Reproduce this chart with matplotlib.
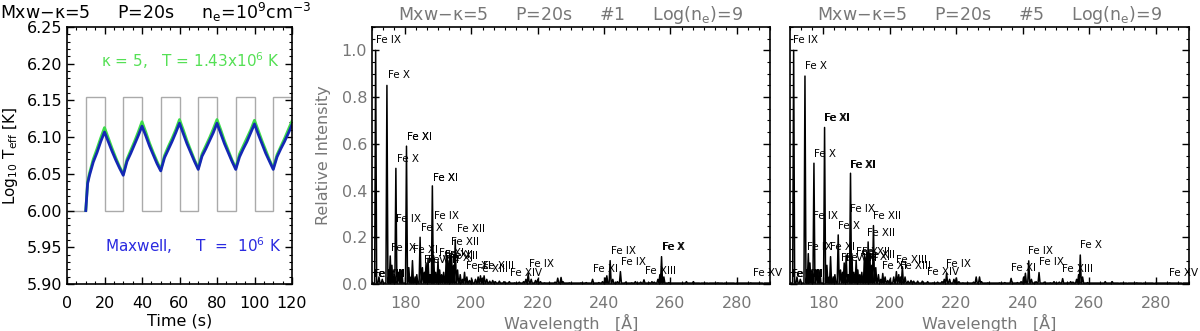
import matplotlib
matplotlib.use("Agg")
import matplotlib.pyplot as plt
from matplotlib.ticker import MultipleLocator, FormatStrFormatter

plt.rcParams['font.family'] = ['DejaVu Sans']
plt.rcParams['mathtext.default'] = 'regular'

# ---- left panel: effective temperature vs time ----
# heating pulse (gray square wave), edges in s and level per interval
pulse_edges = [0, 10, 20, 30, 40, 50, 60, 70, 80, 90, 100, 110, 120]
pulse_level = [6.0, 6.155, 6.0, 6.155, 6.0, 6.155, 6.0, 6.155, 6.0, 6.155, 6.0, 6.155]

time_s = [10, 11, 12, 14, 16, 18, 20, 22, 24, 26, 28, 30, 32, 34, 36, 38, 40,
          42, 44, 46, 48, 50, 52, 54, 56, 58, 60, 62, 64, 66, 68, 70, 72, 74, 76, 78, 80,
          82, 84, 86, 88, 90, 92, 94, 96, 98, 100, 102, 104, 106, 108, 110,
          112, 114, 116, 118, 120]
teff_maxwell = [6.000, 6.037, 6.048, 6.066, 6.079, 6.094, 6.107,
                6.094, 6.081, 6.069, 6.058, 6.048,
                6.067, 6.078, 6.090, 6.102, 6.115,
                6.102, 6.088, 6.076, 6.064, 6.054,
                6.072, 6.083, 6.094, 6.106, 6.119,
                6.105, 6.091, 6.079, 6.067, 6.056,
                6.074, 6.084, 6.095, 6.106, 6.119,
                6.105, 6.091, 6.079, 6.067, 6.056,
                6.073, 6.084, 6.094, 6.106, 6.118,
                6.104, 6.091, 6.078, 6.067, 6.056,
                6.073, 6.084, 6.094, 6.105, 6.117]
teff_kappa = [6.000, 6.039, 6.051, 6.070, 6.084, 6.099, 6.113,
              6.099, 6.085, 6.072, 6.060, 6.050,
              6.070, 6.082, 6.094, 6.107, 6.121,
              6.107, 6.092, 6.079, 6.067, 6.056,
              6.075, 6.087, 6.098, 6.110, 6.124,
              6.110, 6.095, 6.082, 6.069, 6.058,
              6.077, 6.088, 6.099, 6.111, 6.124,
              6.110, 6.095, 6.082, 6.069, 6.058,
              6.077, 6.088, 6.099, 6.110, 6.123,
              6.109, 6.095, 6.082, 6.069, 6.058,
              6.076, 6.087, 6.098, 6.110, 6.122]

# ---- spectra: line list (Angstrom) and peak intensities for snapshot #1 and #5 ----
line_wl = [171.1, 172.1, 173.1, 174.5, 175.2, 175.5, 176.0, 176.7, 177.2, 178.0, 178.6, 179.0,
           180.4, 181.1, 181.8, 182.2, 183.0, 183.5, 184.5, 185.2, 185.8, 186.3, 186.9, 187.5,
           188.2, 188.6, 189.2, 189.9, 190.4, 191.0, 191.6, 192.4, 192.9, 193.5, 194.0, 194.6,
           195.1, 195.8, 196.6, 197.3, 197.9, 198.6, 199.4, 200.1, 201.2, 202.0, 202.7, 203.3,
           203.8, 204.6, 205.5, 206.4, 207.2, 208.4, 209.8, 211.4, 213.0, 214.4, 215.7, 216.4,
           217.1, 218.0, 219.3, 220.0, 220.8, 222.0, 223.5, 225.2, 226.0, 227.0, 227.6, 229.5,
           231.0, 233.0, 234.6, 236.5, 238.4, 239.5, 240.3, 240.8, 241.8, 242.6, 244.0, 244.9,
           246.5, 248.3, 249.4, 251.0, 252.0, 253.5, 254.4, 255.1, 256.2, 256.8, 257.3, 258.0,
           259.5, 261.0, 262.8, 264.8, 266.9, 269.0, 271.5, 274.3, 276.0, 279.5, 284.2, 288.0]
inten_1 = [1.00, 0.03, 0.02, 0.85, 0.06, 0.12, 0.08, 0.04, 0.495, 0.05, 0.03, 0.06,
           0.59, 0.07, 0.03, 0.10, 0.03, 0.04, 0.20, 0.07, 0.05, 0.09, 0.11, 0.04,
           0.42, 0.12, 0.05, 0.10, 0.06, 0.04, 0.05, 0.12, 0.10, 0.13, 0.12, 0.08,
           0.19, 0.06, 0.04, 0.02, 0.05, 0.03, 0.015, 0.02, 0.02, 0.03, 0.035, 0.025,
           0.035, 0.02, 0.012, 0.015, 0.01, 0.012, 0.01, 0.01, 0.005, 0.008, 0.01, 0.02,
           0.045, 0.02, 0.015, 0.02, 0.01, 0.005, 0.005, 0.008, 0.025, 0.028, 0.01, 0.005,
           0.004, 0.005, 0.006, 0.02, 0.006, 0.01, 0.025, 0.035, 0.10, 0.02, 0.01, 0.053,
           0.008, 0.005, 0.01, 0.008, 0.018, 0.006, 0.01, 0.008, 0.02, 0.04, 0.117, 0.03,
           0.006, 0.004, 0.004, 0.01, 0.01, 0.003, 0.003, 0.005, 0.003, 0.002, 0.005, 0.002]
inten_5 = [1.00, 0.03, 0.02, 0.89, 0.06, 0.13, 0.09, 0.05, 0.517, 0.06, 0.03, 0.06,
           0.67, 0.08, 0.03, 0.117, 0.03, 0.04, 0.21, 0.06, 0.05, 0.09, 0.124, 0.04,
           0.474, 0.13, 0.05, 0.10, 0.06, 0.04, 0.05, 0.13, 0.11, 0.18, 0.13, 0.08,
           0.25, 0.07, 0.04, 0.02, 0.045, 0.03, 0.015, 0.02, 0.03, 0.053, 0.04, 0.03,
           0.074, 0.03, 0.012, 0.015, 0.012, 0.012, 0.012, 0.01, 0.005, 0.008, 0.01, 0.02,
           0.046, 0.02, 0.02, 0.025, 0.01, 0.005, 0.005, 0.008, 0.03, 0.03, 0.01, 0.005,
           0.004, 0.005, 0.006, 0.024, 0.006, 0.01, 0.03, 0.046, 0.099, 0.02, 0.01, 0.049,
           0.008, 0.005, 0.01, 0.008, 0.023, 0.006, 0.01, 0.008, 0.02, 0.04, 0.124, 0.03,
           0.006, 0.004, 0.004, 0.01, 0.01, 0.003, 0.003, 0.005, 0.003, 0.002, 0.005, 0.002]

# line identifications: text, wavelength, intensity
ids_1_text = ["Fe IX", "Fe X", "Fe XI", "Fe XI", "Fe X", "Fe XI", "Fe XI", "Fe IX", "Fe IX",
              "Fe X", "Fe XII", "Fe XII", "Fe IX", "Fe XI", "Fe VIII", "Fe VIII", "Fe XI",
              "Fe XII", "Fe XI", "Fe XII", "Fe XI", "Fe XIII", "Fe XIII", "Fe XIV", "Fe IX",
              "Fe XI", "Fe IX", "Fe IX", "Fe XIII", "Fe X", "Fe X", "Fe XV",
              "Fe VIII", "Fe VIII", "Fe VIII"]
ids_1_wl = [171.2, 174.7, 180.6, 180.7, 177.4, 188.4, 188.5, 177.2, 188.7,
            184.9, 195.5, 193.8, 175.7, 182.5, 185.6, 187.0, 190.2,
            191.9, 192.8, 193.5, 198.3, 201.8, 203.6, 211.6, 217.4,
            236.7, 242.1, 245.2, 252.4, 257.5, 257.6, 284.8,
            170.3, 170.45, 170.6]
ids_1_int = [1.046, 0.896, 0.631, 0.631, 0.534, 0.453, 0.453, 0.28, 0.292,
             0.239, 0.234, 0.181, 0.156, 0.146, 0.103, 0.103, 0.131,
             0.126, 0.11, 0.12, 0.078, 0.063, 0.078, 0.049, 0.084,
             0.066, 0.143, 0.093, 0.056, 0.159, 0.159, 0.047,
             0.043, 0.043, 0.043]

ids_5_text = ["Fe IX", "Fe X", "Fe XI", "Fe XI", "Fe X", "Fe XI", "Fe XI", "Fe IX", "Fe XII",
              "Fe IX", "Fe X", "Fe XII", "Fe IX", "Fe XI", "Fe VIII", "Fe VIII", "Fe X",
              "Fe XII", "Fe XI", "Fe XII", "Fe XI", "Fe XIII", "Fe XIII", "Fe XIV", "Fe IX",
              "Fe XI", "Fe IX", "Fe IX", "Fe XIII", "Fe X", "Fe XV",
              "Fe VIII", "Fe VIII", "Fe VIII"]
ids_5_wl = [170.9, 174.4, 180.3, 180.4, 177.1, 188.1, 188.2, 188.1, 195.0,
            176.9, 184.3, 193.3, 175.1, 182.0, 185.3, 186.7, 189.8,
            191.6, 192.6, 193.2, 197.8, 201.8, 203.0, 211.1, 216.9,
            236.5, 241.5, 244.8, 251.8, 257.1, 284.0,
            170.3, 170.45, 170.6]
ids_5_int = [1.046, 0.934, 0.710, 0.710, 0.557, 0.51, 0.51, 0.32, 0.291,
             0.289, 0.249, 0.22, 0.16, 0.157, 0.11, 0.11, 0.136,
             0.136, 0.115, 0.125, 0.078, 0.103, 0.078, 0.053, 0.086,
             0.067, 0.143, 0.093, 0.066, 0.167, 0.046,
             0.043, 0.043, 0.043]

W, H = 1200, 331
fig = plt.figure(figsize=(W / 100, H / 100), dpi=100)


def box(left, right, top=27, bottom=284):
    return [left / W, 1 - bottom / H, (right - left) / W, (bottom - top) / H]


def style_axis(ax, color):
    for sp in ax.spines.values():
        sp.set_linewidth(1.2)
    ax.tick_params(which='both', direction='in', top=True, right=True,
                   labelsize=11.5, labelcolor=color)
    ax.tick_params(which='major', length=5, width=1)
    ax.tick_params(which='minor', length=2.5, width=0.8)
    ax.tick_params(axis='x', pad=8.5)
    ax.tick_params(axis='y', pad=3.5)


# left panel
ax1 = fig.add_axes(box(67, 292))
ax1.stairs(pulse_level, pulse_edges, color='#aaaaaa', lw=1, baseline=None)
ax1.plot(time_s, teff_kappa, color='#3ddc4a', lw=2)
ax1.plot(time_s, teff_maxwell, color='#1428b4', lw=2)
ax1.set_xlim(0, 120)
ax1.set_ylim(5.90, 6.25)
ax1.xaxis.set_major_locator(MultipleLocator(20))
ax1.xaxis.set_minor_locator(MultipleLocator(5))
ax1.yaxis.set_major_locator(MultipleLocator(0.05))
ax1.yaxis.set_minor_locator(MultipleLocator(0.01))
ax1.yaxis.set_major_formatter(FormatStrFormatter('%.2f'))
style_axis(ax1, 'black')
ax1.set_xlabel('Time (s)', fontsize=11.5, labelpad=2)
ax1.set_ylabel(r'Log$_{10}$ T$_{eff}$ [K]', fontsize=11, labelpad=5)
ax1.text(66, 6.204, r'$\kappa$ = 5,   T = 1.43x10$^6$ K', color='#55e055',
         fontsize=11, ha='center', va='center')
ax1.text(67.5, 5.952, r'Maxwell,     T  =  10$^6$ K', color='#2a2ae0',
         fontsize=11, ha='center', va='center')
fig.text(0.0, 1 - 12 / H, r'Mxw$-\kappa$=5     P=20s     n$_e$=10$^9$cm$^{-3}$',
         fontsize=12.5, ha='left', va='center')


def spectrum_line(wl, inten, hw=0.3, base=0.004):
    xs, ys = [170], [base]
    for w, h in sorted(zip(wl, inten)):
        xs += [w - hw, w, w + hw]
        ys += [base, h, base]
    xs.append(290)
    ys.append(base)
    return xs, ys


gray = '#777777'
panels = [(box(372, 770), inten_1, ids_1_text, ids_1_wl, ids_1_int, '#1', True),
          (box(790, 1189), inten_5, ids_5_text, ids_5_wl, ids_5_int, '#5', False)]
for pos, inten, txt, lwl, lint, snap, ylab in panels:
    ax = fig.add_axes(pos)
    xs, ys = spectrum_line(line_wl, inten)
    ax.plot(xs, ys, color='black', lw=1.1)
    for t, x, y in zip(txt, lwl, lint):
        ax.text(x, y, t, fontsize=7.5, ha='left', va='center', color='black')
    ax.set_xlim(170, 290)
    ax.set_ylim(0, 1.1)
    ax.xaxis.set_major_locator(MultipleLocator(20))
    ax.xaxis.set_minor_locator(MultipleLocator(10 / 3))
    ax.yaxis.set_major_locator(MultipleLocator(0.2))
    ax.yaxis.set_minor_locator(MultipleLocator(0.05))
    ax.yaxis.set_major_formatter(FormatStrFormatter('%.1f'))
    style_axis(ax, gray)
    ax.set_xlabel(u'Wavelength   [\u00c5]', fontsize=11.5, color=gray, labelpad=2)
    if ylab:
        ax.set_ylabel('Relative Intensity', fontsize=11.5, color=gray, labelpad=8)
    else:
        ax.tick_params(axis='y', labelleft=False)
    ax.set_title(r'Mxw$-\kappa$=5     P=20s     ' + snap + r'     Log(n$_e$)=9',
                 fontsize=12.5, color=gray, pad=5)

fig.savefig('out.png', dpi=100)
